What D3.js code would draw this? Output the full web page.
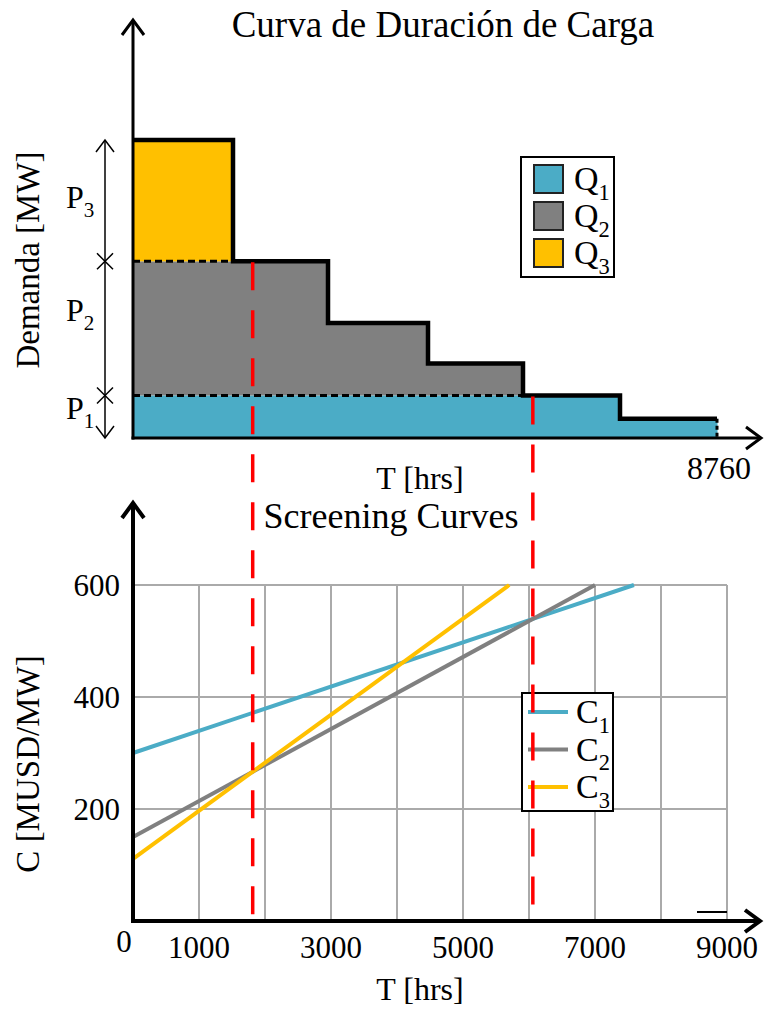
<!DOCTYPE html>
<html>
<head>
<meta charset="utf-8">
<script src="https://cdn.jsdelivr.net/npm/d3@7"></script>
<style>
  html, body { margin: 0; padding: 0; background: #fff; }
  svg { display: block; }
  text { font-family: "Liberation Serif", "Times New Roman", serif; fill: #000; }
</style>
</head>
<body>
<svg id="chart" width="765" height="1009"></svg>
<script>
// ---------- Load duration curve (upper panel) ----------
const stepHours = [1500, 1425, 1500, 1425, 1455, 1455];   // hours per block (sum 8760)
const stepDemand = [700, 415, 270, 175, 100, 45];          // MW per block
const layerNames = ["Q1", "Q2", "Q3"];
const layerTop = [100, 415, 700];                          // cumulative MW bounds P1, P1+P2, P1+P2+P3
const layerColors = ["#4BACC6", "#808080", "#FFC000"];
const totalHours = 8760;

// ---------- Screening curves (lower panel) ----------
const curveNames = ["C1", "C2", "C3"];
const curveColors = ["#4BACC6", "#808080", "#FFC000"];
const curveT = [[0, 7590], [0, 7000], [0, 5700]];          // hrs
const curveC = [[300, 600], [150, 600], [111, 600]];       // MUSD/MW
const yTicks = [200, 400, 600];
const xTickLabels = [1000, 3000, 5000, 7000, 9000];
const xGrid = [1000, 2000, 3000, 4000, 5000, 6000, 7000, 8000, 9000];

const svg = d3.select("#chart");

function chevron(g, x, y, dir, w) {
  // open arrow head pointing up ("u") or right ("r")
  const a = 11, b = 15;
  const d = dir === "u"
    ? `M${x - a},${y + b} L${x},${y} L${x + a},${y + b}`
    : `M${x - b},${y - a} L${x},${y} L${x - b},${y + a}`;
  g.append("path").attr("d", d).attr("fill", "none")
    .attr("stroke", "#000").attr("stroke-width", w)
    .attr("stroke-linejoin", "miter");
}

function subLabel(g, x, y, main, sub, size) {
  const t = g.append("text").attr("x", x).attr("y", y)
    .attr("font-size", size);
  t.append("tspan").text(main);
  t.append("tspan").attr("font-size", size * 0.66).attr("dy", size * 0.28).text(sub);
  return t;
}

// ================= UPPER PANEL =================
const gUp = svg.append("g");
const tx = d3.scaleLinear().domain([0, totalHours]).range([133, 717]);
const ty = d3.scaleLinear().domain([0, 700]).range([438, 140]);

// block boundaries
const starts = [0, ...d3.cumsum(stepHours)];
const blocks = stepDemand.map((d, i) => ({ t0: starts[i], t1: starts[i + 1], d }));

// stacked layer fills
const layerBase = [0, ...layerTop.slice(0, -1)];
blocks.forEach(b => {
  layerTop.forEach((hi, k) => {
    const lo = layerBase[k];
    if (b.d > lo) {
      const h = Math.min(b.d, hi);
      gUp.append("rect")
        .attr("x", tx(b.t0)).attr("width", tx(b.t1) - tx(b.t0) + 0.5)
        .attr("y", ty(h)).attr("height", ty(lo) - ty(h))
        .attr("fill", layerColors[k]);
    }
  });
});

// dotted layer boundaries
[layerTop[0], layerTop[1]].forEach(level => {
  const span = blocks.filter(b => b.d > level);
  const tEnd = d3.max(span, b => b.t1);
  gUp.append("line")
    .attr("x1", tx(0)).attr("x2", tx(tEnd))
    .attr("y1", ty(level)).attr("y2", ty(level))
    .attr("stroke", "#000").attr("stroke-width", 3)
    .attr("stroke-dasharray", "7,4");
});

// step outline
const stepPts = [];
blocks.forEach(b => { stepPts.push([b.t0, b.d]); stepPts.push([b.t1, b.d]); });
gUp.append("path")
  .attr("d", d3.line().x(p => tx(p[0])).y(p => ty(p[1]))(stepPts))
  .attr("fill", "none").attr("stroke", "#000").attr("stroke-width", 4.5)
  .attr("stroke-linejoin", "miter");
gUp.append("line")
  .attr("x1", tx(totalHours)).attr("x2", tx(totalHours))
  .attr("y1", ty(stepDemand[stepDemand.length - 1])).attr("y2", ty(0))
  .attr("stroke", "#000").attr("stroke-width", 3).attr("stroke-dasharray", "4,3");

// axes
gUp.append("line").attr("x1", 133).attr("x2", 133).attr("y1", ty(0) + 1.5).attr("y2", 20)
  .attr("stroke", "#000").attr("stroke-width", 3);
chevron(gUp, 133, 20, "u", 3);
gUp.append("line").attr("x1", 131.5).attr("x2", 761).attr("y1", ty(0)).attr("y2", ty(0))
  .attr("stroke", "#000").attr("stroke-width", 3);
chevron(gUp, 761, ty(0), "r", 3);

gUp.append("text").attr("x", tx(totalHours) + 2).attr("y", ty(0) + 41)
  .attr("text-anchor", "middle").attr("font-size", 32).text(String(totalHours));
gUp.append("text").attr("x", 420).attr("y", 489)
  .attr("text-anchor", "middle").attr("font-size", 32).text("T [hrs]");
gUp.append("text").attr("x", 443).attr("y", 37)
  .attr("text-anchor", "middle").attr("font-size", 37).text("Curva de Duración de Carga");
gUp.append("text").attr("transform", `translate(39,260) rotate(-90)`)
  .attr("text-anchor", "middle").attr("font-size", 33).text("Demanda [MW]");

// dimension line with P labels
const dimX = 105;
gUp.append("line").attr("x1", dimX).attr("x2", dimX).attr("y1", ty(0)).attr("y2", ty(700))
  .attr("stroke", "#000").attr("stroke-width", 1.5);
gUp.append("path").attr("d", `M${dimX - 9},${ty(700) + 12} L${dimX},${ty(700)} L${dimX + 9},${ty(700) + 12}`)
  .attr("fill", "none").attr("stroke", "#000").attr("stroke-width", 1.5);
gUp.append("path").attr("d", `M${dimX - 9},${ty(0) - 12} L${dimX},${ty(0)} L${dimX + 9},${ty(0) - 12}`)
  .attr("fill", "none").attr("stroke", "#000").attr("stroke-width", 1.5);
[layerTop[0], layerTop[1]].forEach(level => {
  const y = ty(level);
  gUp.append("path").attr("d", `M${dimX - 8},${y - 8} L${dimX + 8},${y + 8} M${dimX - 8},${y + 8} L${dimX + 8},${y - 8}`)
    .attr("stroke", "#000").attr("stroke-width", 1.5);
});
const pOffsets = [-9, -18, -4];
layerTop.forEach((hi, k) => {
  const mid = (hi + layerBase[k]) / 2;
  subLabel(gUp, 66, ty(mid) + 11 + pOffsets[k], "P", String(k + 1), 32);
});

// legend Q
const lq = gUp.append("g");
lq.append("rect").attr("x", 521).attr("y", 157).attr("width", 93).attr("height", 120)
  .attr("fill", "#fff").attr("stroke", "#000").attr("stroke-width", 2);
layerNames.forEach((n, k) => {
  const cy = 179 + k * 37;
  lq.append("rect").attr("x", 534).attr("y", cy - 14).attr("width", 29).attr("height", 28)
    .attr("fill", layerColors[k]).attr("stroke", "#222").attr("stroke-width", 2);
  subLabel(lq, 574, cy + 11, n[0], n.slice(1), 34);
});

// ================= LOWER PANEL =================
const gLo = svg.append("g");
const bx = d3.scaleLinear().domain([0, 9000]).range([133, 727]);
const by = d3.scaleLinear().domain([0, 600]).range([921, 585]);

// grid
xGrid.forEach(v => {
  gLo.append("line").attr("x1", bx(v)).attr("x2", bx(v)).attr("y1", by(0)).attr("y2", by(600))
    .attr("stroke", "#aaa").attr("stroke-width", 2);
});
yTicks.forEach(v => {
  gLo.append("line").attr("x1", bx(0)).attr("x2", bx(9000)).attr("y1", by(v)).attr("y2", by(v))
    .attr("stroke", "#aaa").attr("stroke-width", 2);
});

// screening lines
const curves = curveNames.map((n, i) => ({
  name: n, color: curveColors[i],
  pts: curveT[i].map((t, j) => [t, curveC[i][j]])
}));
const lineGen = d3.line().x(p => bx(p[0])).y(p => by(p[1]));
curves.forEach(c => {
  gLo.append("path").attr("d", lineGen(c.pts)).attr("fill", "none")
    .attr("stroke", c.color).attr("stroke-width", 4);
});

// crossover hours where the cheapest technology changes
function cross(a, b) {
  const sa = (a.pts[1][1] - a.pts[0][1]) / (a.pts[1][0] - a.pts[0][0]);
  const sb = (b.pts[1][1] - b.pts[0][1]) / (b.pts[1][0] - b.pts[0][0]);
  return (b.pts[0][1] - a.pts[0][1]) / (sa - sb);
}
const cross32 = cross(curves[1], curves[2]);
const cross21 = cross(curves[0], curves[1]);

// axes
gLo.append("line").attr("x1", 133).attr("x2", 133).attr("y1", by(0) + 2).attr("y2", 503)
  .attr("stroke", "#000").attr("stroke-width", 4);
chevron(gLo, 133, 503, "u", 4);
gLo.append("line").attr("x1", 131).attr("x2", 760).attr("y1", by(0)).attr("y2", by(0))
  .attr("stroke", "#000").attr("stroke-width", 4);
chevron(gLo, 760, by(0), "r", 4);
gLo.append("line").attr("x1", 697).attr("x2", 727).attr("y1", 912).attr("y2", 912)
  .attr("stroke", "#000").attr("stroke-width", 2);

// tick labels
yTicks.forEach(v => {
  gLo.append("text").attr("x", 120).attr("y", by(v) + 11).attr("text-anchor", "end")
    .attr("font-size", 31).text(v);
});
xTickLabels.forEach(v => {
  gLo.append("text").attr("x", bx(v)).attr("y", 958).attr("text-anchor", "middle")
    .attr("font-size", 31).text(v);
});
gLo.append("text").attr("x", 124).attr("y", 952).attr("text-anchor", "middle")
  .attr("font-size", 31).text("0");
gLo.append("text").attr("x", 420).attr("y", 1000).attr("text-anchor", "middle")
  .attr("font-size", 32).text("T [hrs]");
gLo.append("text").attr("x", 391).attr("y", 528).attr("text-anchor", "middle")
  .attr("font-size", 36).text("Screening Curves");
gLo.append("text").attr("transform", `translate(39,764) rotate(-90)`)
  .attr("text-anchor", "middle").attr("font-size", 33).text("C [MUSD/MW]");

// legend C
const lc = gLo.append("g");
lc.append("rect").attr("x", 522).attr("y", 693).attr("width", 91).attr("height", 118)
  .attr("fill", "#fff").attr("stroke", "#000").attr("stroke-width", 2);
curves.forEach((c, k) => {
  const cy = 712 + k * 37.5;
  lc.append("line").attr("x1", 528).attr("x2", 568).attr("y1", cy).attr("y2", cy)
    .attr("stroke", c.color).attr("stroke-width", 4);
  subLabel(lc, 576, cy + 11, c.name[0], c.name.slice(1), 34);
});

// ---------- crossover markers spanning both panels ----------
svg.append("line").attr("x1", bx(cross32)).attr("x2", bx(cross32))
  .attr("y1", ty(layerTop[1]) + 1).attr("y2", 916)
  .attr("stroke", "#FF0000").attr("stroke-width", 3.5).attr("stroke-dasharray", "28,20");
svg.append("line").attr("x1", bx(cross21)).attr("x2", bx(cross21))
  .attr("y1", ty(layerTop[0]) + 1).attr("y2", 905)
  .attr("stroke", "#FF0000").attr("stroke-width", 3.5).attr("stroke-dasharray", "28,20");
</script>
</body>
</html>
